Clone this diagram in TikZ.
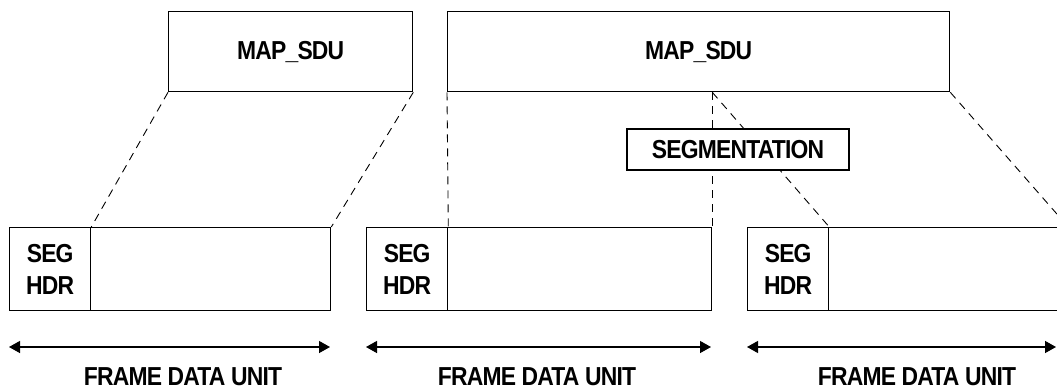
\documentclass[tikz,border=0pt]{standalone}
\usepackage{fontspec}
\usepackage{tikz}
\usetikzlibrary{
    arrows.meta,
    calc,
    positioning
}
\newfontfamily\diagfont{Liberation Sans}[FakeStretch=0.88, LetterSpace=-3]

\tikzset{
    lbl/.style={font=\diagfont\fontsize{26}{32}\selectfont\bfseries},
    sdubox/.style={draw, lbl, line width=1.3pt, minimum height=80, inner sep=0pt, anchor=north west},
    unitbox/.style={draw, line width=1.3pt, minimum height=83, inner sep=0pt, anchor=north west},
    hdrbox/.style={unitbox, lbl, minimum width=81, align=center},
    cut/.style={dashed, line width=0.9pt, dash pattern=on 8pt off 6pt},
    span/.style={line width=1.3pt, {Triangle[length=11pt,width=12pt]}-{Triangle[length=11pt,width=12pt]}}
}

\begin{document}
\begin{tikzpicture}[x=1pt, y=-1pt]
    \useasboundingbox (0, 0) rectangle (1057, 391);

    % upper service data units
    \node[sdubox, minimum width=244] (sduA) at (168, 11) {MAP\_SDU};
    \node[sdubox, minimum width=502] (sduB) at (447, 11) {MAP\_SDU};

    % frame data units
    \node[unitbox, minimum width=321] (fduA) at (9, 227) {};
    \node[hdrbox] (hdrA) at (9, 227) {SEG\\HDR};
    \node[unitbox, minimum width=345] (fduB) at (366, 227) {};
    \node[hdrbox] (hdrB) at (366, 227) {SEG\\HDR};
    \node[unitbox, minimum width=320] (fduC) at (747, 227) {};
    \node[hdrbox] (hdrC) at (747, 227) {SEG\\HDR};

    \coordinate (split) at (fduB.north east |- sduB.south);

    \draw[cut]
    (sduA.south west) edge (hdrA.north east)
    (sduA.south east) edge (fduA.north east)
    (sduB.south west) edge (hdrB.north east)
    (split) edge (fduB.north east)
    (split) edge (hdrC.north east)
    (sduB.south east) edge (fduC.north east);

    \node[draw, fill=white, lbl, line width=1.3pt, minimum width=222, minimum height=41, inner sep=0pt] (seg) at (738, 149.5) {SEGMENTATION};

    % lengths
    \coordinate (lenA1) at (9, 347);
    \coordinate (lenA2) at (330, 347);
    \coordinate (lenB1) at (366, 347);
    \coordinate (lenB2) at (711, 347);
    \coordinate (lenC1) at (747, 347);
    \coordinate (lenC2) at (1056, 347);
    \draw[span] (lenA1) -- (lenA2);
    \draw[span] (lenB1) -- (lenB2);
    \draw[span] (lenC1) -- (lenC2);

    \node[lbl, inner sep=1pt] (nameA) at (183, 377) {FRAME DATA UNIT};
    \node[lbl, inner sep=1pt] (nameB) at (537, 377) {FRAME DATA UNIT};
    \node[lbl, inner sep=1pt] (nameC) at (917, 377) {FRAME DATA UNIT};
\end{tikzpicture}
\end{document}
